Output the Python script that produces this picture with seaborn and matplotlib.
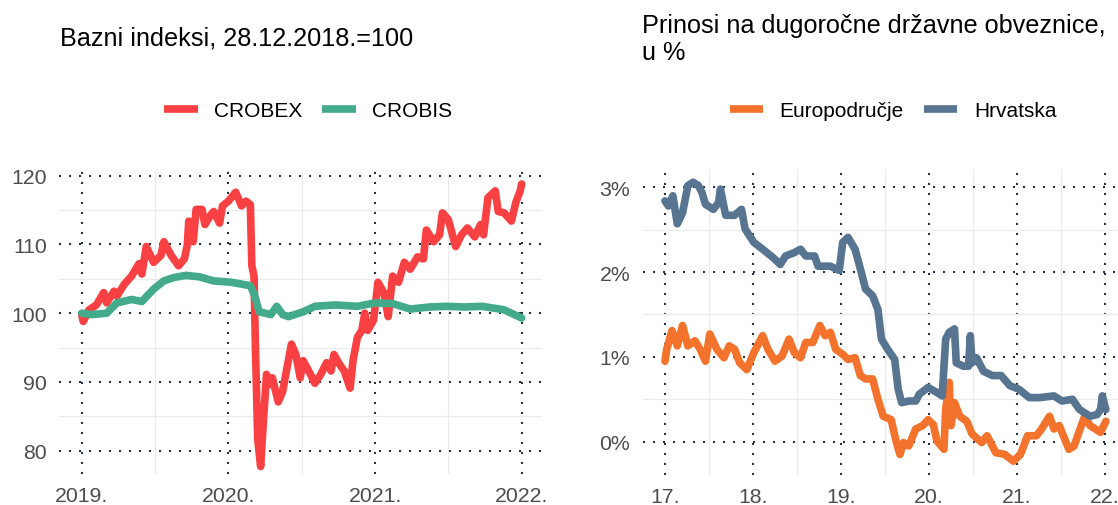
import pandas as pd
import matplotlib
matplotlib.use("Agg")
import matplotlib.pyplot as plt
import seaborn as sns

# ---- data ----
# stock / bond indices, 28.12.2018 = 100, time in decimal years
crobex_t = [2019.00, 2019.01, 2019.05, 2019.10, 2019.15, 2019.17, 2019.22, 2019.24, 2019.29, 2019.34,
            2019.39, 2019.41, 2019.44, 2019.49, 2019.54, 2019.56, 2019.61, 2019.66, 2019.70, 2019.72,
            2019.73, 2019.76, 2019.78, 2019.82, 2019.84, 2019.88, 2019.90, 2019.94, 2019.96, 2020.00,
            2020.05, 2020.09, 2020.12, 2020.15, 2020.16, 2020.175, 2020.185, 2020.20, 2020.22, 2020.24,
            2020.26, 2020.28, 2020.30, 2020.34, 2020.37, 2020.40, 2020.43, 2020.46, 2020.49, 2020.51,
            2020.56, 2020.59, 2020.63, 2020.67, 2020.70, 2020.72, 2020.76, 2020.79, 2020.83, 2020.85,
            2020.88, 2020.91, 2020.93, 2020.95, 2020.99, 2021.02, 2021.06, 2021.09, 2021.12, 2021.16,
            2021.20, 2021.24, 2021.29, 2021.33, 2021.35, 2021.40, 2021.44, 2021.46, 2021.50, 2021.55,
            2021.59, 2021.63, 2021.68, 2021.72, 2021.74, 2021.77, 2021.82, 2021.84, 2021.88, 2021.93,
            2021.96, 2021.99, 2022.00]
crobex_v = [99.8, 98.8, 100.5, 101.2, 103.0, 101.5, 103.2, 102.5, 104.2, 105.4,
            107.2, 105.7, 109.7, 107.4, 108.4, 110.4, 108.4, 106.9, 107.9, 109.9,
            113.4, 110.4, 115.1, 115.1, 112.9, 114.3, 114.8, 113.1, 115.6, 116.3,
            117.6, 115.6, 116.3, 115.8, 106.9, 105.4, 94.5, 81.7, 77.7, 84.7,
            91.1, 89.6, 90.6, 87.1, 88.6, 92.1, 95.5, 94.0, 90.6, 93.1,
            91.1, 89.8, 91.1, 92.8, 91.6, 94.0, 92.5, 91.6, 89.1, 93.1,
            96.5, 97.5, 100.0, 97.5, 99.0, 104.5, 103.0, 99.5, 105.4, 104.5,
            107.4, 106.4, 108.2, 107.9, 112.1, 110.4, 111.4, 114.6, 113.6, 109.7,
            111.4, 112.4, 111.1, 112.9, 111.4, 116.8, 117.8, 114.8, 114.6, 113.4,
            116.1, 117.8, 118.8]

crobis_t = [2019.00, 2019.07, 2019.17, 2019.24, 2019.34, 2019.41, 2019.49, 2019.56, 2019.63, 2019.71,
            2019.80, 2019.90, 2020.02, 2020.15, 2020.18, 2020.21, 2020.29, 2020.33, 2020.37, 2020.41,
            2020.51, 2020.59, 2020.73, 2020.88, 2021.00, 2021.12, 2021.24, 2021.37, 2021.49, 2021.61,
            2021.73, 2021.88, 2021.95, 2022.00]
crobis_v = [100.0, 99.8, 100.0, 101.5, 102.0, 101.7, 103.5, 104.7, 105.2, 105.5,
            105.3, 104.7, 104.5, 104.0, 102.5, 100.2, 99.8, 101.0, 99.8, 99.5,
            100.2, 101.0, 101.2, 101.0, 101.5, 101.4, 100.6, 100.9, 101.0, 100.9,
            101.0, 100.5, 99.8, 99.3]

# long-term government bond yields, %, time in decimal years (17 = 2017)
euro_t = [17.00, 17.02, 17.08, 17.14, 17.20, 17.26, 17.34, 17.40, 17.46, 17.51,
          17.59, 17.67, 17.73, 17.79, 17.85, 17.93, 18.01, 18.11, 18.17, 18.25,
          18.33, 18.41, 18.47, 18.54, 18.60, 18.68, 18.76, 18.82, 18.88, 18.94,
          19.02, 19.08, 19.16, 19.22, 19.28, 19.36, 19.42, 19.48, 19.57, 19.63,
          19.67, 19.71, 19.77, 19.85, 19.93, 19.99, 20.05, 20.09, 20.17, 20.19,
          20.23, 20.25, 20.29, 20.35, 20.43, 20.49, 20.60, 20.66, 20.76, 20.86,
          20.96, 21.04, 21.12, 21.22, 21.28, 21.37, 21.42, 21.48, 21.59, 21.65,
          21.71, 21.77, 21.83, 21.89, 21.95, 22.01]
euro_v = [0.95, 1.09, 1.31, 1.13, 1.37, 1.13, 1.19, 1.09, 0.95, 1.27,
          1.09, 0.99, 1.13, 1.09, 0.93, 0.85, 1.05, 1.25, 1.09, 0.95,
          1.01, 1.21, 1.05, 0.99, 1.17, 1.17, 1.37, 1.25, 1.29, 1.09,
          1.03, 0.97, 0.99, 0.78, 0.74, 0.74, 0.50, 0.30, 0.26, -0.01,
          -0.15, -0.01, -0.05, 0.15, 0.19, 0.26, 0.20, 0.01, -0.09, 0.38,
          0.70, 0.19, 0.46, 0.30, 0.24, 0.09, -0.01, 0.07, -0.13, -0.15,
          -0.23, -0.15, 0.07, 0.07, 0.15, 0.30, 0.15, 0.19, -0.09, -0.05,
          0.13, 0.30, 0.19, 0.15, 0.11, 0.24]

hr_t = [17.00, 17.04, 17.09, 17.14, 17.20, 17.26, 17.32, 17.38, 17.42, 17.46,
        17.55, 17.61, 17.63, 17.69, 17.79, 17.87, 17.91, 18.01, 18.11, 18.23,
        18.31, 18.37, 18.47, 18.54, 18.60, 18.70, 18.74, 18.88, 18.98, 19.02,
        19.08, 19.16, 19.22, 19.28, 19.36, 19.42, 19.46, 19.53, 19.61, 19.65,
        19.69, 19.77, 19.85, 19.89, 19.99, 20.09, 20.15, 20.19, 20.23, 20.29,
        20.31, 20.39, 20.45, 20.47, 20.49, 20.54, 20.62, 20.72, 20.82, 20.92,
        21.02, 21.14, 21.26, 21.42, 21.51, 21.63, 21.71, 21.83, 21.91, 21.95,
        21.97, 22.01]
hr_v = [2.84, 2.78, 2.90, 2.57, 2.70, 3.02, 3.06, 3.02, 2.94, 2.80,
        2.74, 2.82, 2.98, 2.67, 2.67, 2.74, 2.51, 2.35, 2.27, 2.17,
        2.09, 2.19, 2.23, 2.27, 2.19, 2.19, 2.07, 2.07, 2.02, 2.35,
        2.41, 2.27, 2.04, 1.80, 1.72, 1.56, 1.21, 1.09, 0.97, 0.62,
        0.46, 0.48, 0.48, 0.56, 0.64, 0.58, 0.54, 1.21, 1.29, 1.33,
        0.93, 0.89, 0.89, 1.25, 0.93, 0.99, 0.83, 0.78, 0.78, 0.66,
        0.62, 0.52, 0.52, 0.54, 0.48, 0.50, 0.38, 0.30, 0.32, 0.38,
        0.54, 0.38]

# ticks
left_xticks = [2019, 2020, 2021, 2022]
left_xlabels = ["2019.", "2020.", "2021.", "2022."]
left_xminor = [2019.5, 2020.5, 2021.5]
left_yticks = [80, 90, 100, 110, 120]
left_yminor = [85, 95, 105, 115]
right_xticks = [17, 18, 19, 20, 21, 22]
right_xlabels = ["17.", "18.", "19.", "20.", "21.", "22."]
right_xminor = [17.5, 18.5, 19.5, 20.5, 21.5]
right_yticks = [0, 1, 2, 3]
right_ylabels = ["0%", "1%", "2%", "3%"]
right_yminor = [0.5, 1.5, 2.5]

colors = {"CROBEX": "#F94144", "CROBIS": "#43AA8B",
          "Europodručje": "#F3722C", "Hrvatska": "#577590"}

# ---- dataframes ----
df_idx = pd.concat([
    pd.DataFrame({"t": crobex_t, "v": crobex_v, "serija": "CROBEX"}),
    pd.DataFrame({"t": crobis_t, "v": crobis_v, "serija": "CROBIS"}),
])
df_yld = pd.concat([
    pd.DataFrame({"t": euro_t, "v": euro_v, "serija": "Europodručje"}),
    pd.DataFrame({"t": hr_t, "v": hr_v, "serija": "Hrvatska"}),
])

sns.set_theme(style="white")
plt.rcParams["font.family"] = ["Liberation Sans", "DejaVu Sans"]
plt.rcParams["text.color"] = "black"

W, H = 1118, 506
fig = plt.figure(figsize=(W / 100, H / 100), dpi=100)


def px_axes(x0, y0, x1, y1):
    return [x0 / W, 1 - y1 / H, (x1 - x0) / W, (y1 - y0) / H]


ax1 = fig.add_axes(px_axes(59.3, 171.7, 542.2, 475))
ax2 = fig.add_axes(px_axes(642.7, 171.7, 1118, 476))

LW = 5.5
sns.lineplot(data=df_idx, x="t", y="v", hue="serija", palette=colors, lw=LW,
             estimator=None, sort=False, legend=False, ax=ax1)
sns.lineplot(data=df_yld, x="t", y="v", hue="serija", palette=colors, lw=LW,
             estimator=None, sort=False, legend=False, ax=ax2)


def style_axes(ax, xt, xl, xm, yt, yl, ym):
    ax.set_xticks(xt)
    ax.set_xticklabels(xl)
    ax.set_xticks(xm, minor=True)
    ax.set_yticks(yt)
    ax.set_yticklabels(yl)
    ax.set_yticks(ym, minor=True)
    ax.grid(which="minor", color="#EBEBEB", lw=0.9, ls="-")
    ax.grid(which="major", color="#283142", lw=1.5, ls=(0, (1, 3.8)))
    ax.set_axisbelow(True)
    ax.tick_params(which="both", length=0)
    ax.tick_params(axis="both", labelsize=15.3, labelcolor="#4D4D4D", pad=9)
    for s in ax.spines.values():
        s.set_visible(False)
    ax.set_xlabel("")
    ax.set_ylabel("")
    ax.set_facecolor("none")


style_axes(ax1, left_xticks, left_xlabels, left_xminor,
           left_yticks, [str(v) for v in left_yticks], left_yminor)
ax1.set_xlim(2018.847, 2022.14)
ax1.set_ylim(76.61, 120.73)

style_axes(ax2, right_xticks, right_xlabels, right_xminor,
           right_yticks, right_ylabels, right_yminor)
ax2.set_xlim(16.747, 22.148)
ax2.set_ylim(-0.393, 3.196)

# titles
fig.text(60 / W, 1 - 45.7 / H, "Bazni indeksi, 28.12.2018.=100",
         fontsize=18.2, color="black", ha="left", va="baseline")
fig.text(641.7 / W, 1 - 33.3 / H, "Prinosi na dugoročne državne obveznice,",
         fontsize=18.2, color="black", ha="left", va="baseline")
fig.text(641.7 / W, 1 - 60 / H, "u %", fontsize=18.2, color="black",
         ha="left", va="baseline")

# legends
leg_kw = dict(loc="center", ncol=2, frameon=False, fontsize=15,
              handlelength=1.6, handletextpad=0.8, columnspacing=0.95,
              borderpad=0, borderaxespad=0, labelcolor="black")
h1 = [plt.Line2D([0], [0], color=colors[k], lw=5.5, solid_capstyle="butt") for k in ["CROBEX", "CROBIS"]]
fig.legend(handles=h1, labels=["CROBEX", "CROBIS"],
           bbox_to_anchor=(308.5 / W, 1 - 111.7 / H), **leg_kw)
h2 = [plt.Line2D([0], [0], color=colors[k], lw=5.5, solid_capstyle="butt") for k in ["Europodručje", "Hrvatska"]]
fig.legend(handles=h2, labels=["Europodručje", "Hrvatska"],
           bbox_to_anchor=(893 / W, 1 - 111.7 / H), **leg_kw)

fig.savefig("out.png", dpi=100)
